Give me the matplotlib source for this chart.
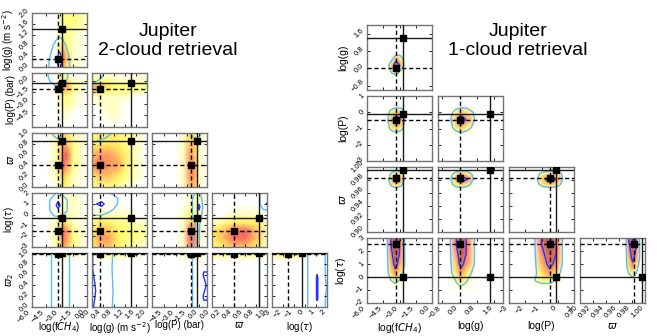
import numpy as np
import matplotlib
matplotlib.use('Agg')
import matplotlib.pyplot as plt
from matplotlib.colors import ListedColormap

plt.rcParams['font.family'] = ['Liberation Sans', 'DejaVu Sans']
plt.rcParams['mathtext.fontset'] = 'dejavusans'

# ---------------- left corner plot: Jupiter, 2-cloud retrieval ----------------
left_names = ['log(f$CH_4$)', 'log(g) (m s$^{-2}$)', 'log(P) (bar)', r'$\varpi$', r'log($\tau$)', r'$\varpi_2$']
left_ranges = [(-6, 0), (0, 2), (-6, 1), (0, 1), (-3, 2), (0, 1)]
left_ticks = [[-6, -4.5, -3, -1.5, 0], [0, 0.4, 0.8, 1.2, 1.6, 2.0], [-4.5, -3, -1.5, 0],
              [0, 0.2, 0.4, 0.6, 0.8, 1.0], [-3, -2, -1, 0, 1, 2], [0, 0.2, 0.4, 0.6, 0.8, 1.0]]
left_fmt = ['%.1f', '%.1f', '%.1f', '%.1f', '%d', '%.1f']
left_true = [-2.7, 1.40, -0.25, 0.85, -0.3, 1.0]      # solid lines
left_retr = [-3.15, 0.30, -1.1, 0.40, -1.55, 0.985]   # dashed lines

# heat-map node positions along each parameter
hx_fch4 = [-6, -4.5, -3.5, -3.0, -2.6, -2.2, -1.5, 0]
hx_g = [0, 0.3, 0.6, 0.9, 1.2, 1.6, 2.0]
hx_p = [-6, -4, -3, -2, -1.2, -0.6, 0, 1]
hx_w = [0, 0.2, 0.4, 0.6, 0.8, 1.0]
hx_tau = [-3, -2.2, -1.5, -0.8, 0, 1, 2]
hx_w2 = [0, 0.85, 1.0]
left_heat_nodes = [hx_fch4, hx_g, hx_p, hx_w, hx_tau, hx_w2]

# posterior density (rows = y nodes bottom->top, cols = x nodes)
heat_g_fch4 = [[0, 0, 0, 1, 4, 3, 1, 0], [0, 0, 0, 2, 6, 4, 1, 0], [0, 0, 0, 2, 5, 3, 1, 0],
               [0, 0, 0, 1, 3, 2, 1, 0], [0, 0, 0, 1, 2, 2, 1, 0], [0, 0, 0, 1, 2, 2, 2, 1],
               [0, 0, 0, 1, 2, 2, 2, 1]]
heat_p_fch4 = [[0, 0, 0, 0, 0, 0, 0, 0], [0, 0, 0, 0, 1, 1, 0, 0], [0, 0, 0, 1, 1, 2, 1, 0],
               [0, 0, 0, 1, 2, 2, 1, 0], [0, 0, 0, 2, 4, 4, 2, 0], [0, 0, 0, 2, 5, 5, 2, 0],
               [0, 0, 0, 1, 3, 3, 1, 0], [0, 0, 0, 1, 1, 1, 0, 0]]
heat_p_g = [[0, 0, 0, 0, 0, 0, 0], [0, 0, 1, 1, 0, 0, 0], [0, 1, 1, 1, 0, 0, 0],
            [1, 1, 1, 1, 1, 0, 0], [5, 3, 3, 2, 2, 2, 1], [5, 4, 3, 2, 2, 2, 2],
            [2, 2, 2, 1, 1, 1, 1], [0, 0, 0, 0, 0, 0, 0]]
heat_w_fch4 = [[0, 0, 0, 1, 3, 2, 1, 0], [0, 0, 1, 2, 4, 3, 1, 0], [0, 0, 1, 3, 6, 5, 2, 0],
               [0, 0, 1, 3, 6, 7, 2, 0], [0, 0, 1, 3, 5, 4, 2, 0], [0, 0, 1, 2, 4, 3, 1, 0]]
heat_w_g = [[2, 2, 2, 2, 1, 0, 0], [3, 4, 4, 3, 2, 1, 0], [5, 6, 5, 5, 3, 1, 0],
            [4, 5, 5, 4, 3, 1, 0], [3, 3, 3, 3, 2, 1, 0], [2, 3, 3, 3, 2, 1, 0]]
heat_w_p = [[0, 0, 0, 1, 4, 4, 1, 0], [0, 0, 0, 1, 5, 5, 1, 0], [0, 0, 0, 1, 5, 5, 1, 0],
            [0, 0, 0, 1, 5, 4, 1, 0], [0, 0, 0, 1, 4, 4, 1, 0], [0, 0, 0, 1, 3, 3, 1, 0]]
heat_tau_fch4 = [[0, 0, 1, 3, 5, 4, 2, 0], [0, 0, 1, 3, 6, 5, 2, 0], [0, 0, 1, 3, 6, 5, 2, 0],
                 [0, 0, 1, 2, 4, 3, 1, 0], [0, 0, 0, 1, 1, 1, 1, 0], [0, 0, 0, 0, 1, 1, 1, 0],
                 [0, 0, 0, 0, 1, 1, 1, 0]]
heat_tau_g = [[3, 4, 4, 3, 2, 1, 1], [3, 5, 5, 3, 2, 2, 1], [3, 4, 4, 3, 2, 2, 1],
              [2, 3, 3, 2, 2, 1, 1], [1, 1, 1, 1, 1, 0, 0], [0, 0, 0, 0, 0, 0, 0],
              [0, 0, 0, 0, 0, 0, 0]]
heat_tau_p = [[0, 0, 0, 1, 5, 5, 1, 0], [0, 0, 0, 1, 6, 6, 1, 0], [0, 0, 0, 1, 6, 5, 1, 0],
              [0, 0, 0, 1, 4, 4, 1, 0], [0, 0, 0, 1, 2, 2, 1, 0], [0, 0, 0, 0, 1, 1, 1, 0],
              [0, 0, 0, 0, 1, 1, 1, 0]]
heat_tau_w = [[2, 3, 4, 4, 3, 1], [3, 4, 6, 6, 4, 1], [3, 4, 6, 7, 4, 1], [1, 2, 3, 3, 3, 1],
              [0, 0, 1, 1, 1, 0], [0, 0, 0, 0, 0, 0], [0, 0, 0, 0, 0, 0]]
heat_w2_fch4 = [[0, 0, 0, 0, 0, 0, 0, 0], [0, 0, 0, 0, 0, 0, 0, 0], [0, 0, 0, 2, 3, 2, 1, 0]]
heat_w2_g = [[0, 0, 0, 0, 0, 0, 0], [0, 0, 0, 0, 0, 0, 0], [2, 2, 2, 2, 1, 1, 0]]
heat_w2_p = [[0, 0, 0, 0, 0, 0, 0, 0], [0, 0, 0, 0, 0, 0, 0, 0], [0, 0, 0, 1, 3, 3, 1, 0]]
heat_w2_w = [[0, 0, 0, 0, 0, 0], [0, 0, 0, 0, 0, 0], [2, 2, 2, 2, 2, 1]]
heat_w2_tau = [[0, 0, 0, 0, 0, 0, 0], [0, 0, 0, 0, 0, 0, 0], [2, 3, 3, 2, 1, 0, 0]]

# contour fields (x nodes, y nodes, values)
cont_g_fch4 = ([-4.5, -3.9, -3.4, -3.0, -2.6, -2.1, -1.6], [-0.2, 0.2, 0.5, 0.8, 1.1, 1.4],
               [[0, 3, 5, 6, 5, 3, 0], [0, 3, 6, 8, 6, 3, 0], [0, 2, 5, 7, 5, 2, 0],
                [0, 1, 3, 4, 3, 1, 0], [0, 0, 1, 2, 1, 0, 0], [0, 0, 0, 0, 0, 0, 0]])
cont_p_fch4 = ([-4.6, -4.0, -3.4, -2.9, -2.3, -1.8], [-1.2, -0.6, 0, 0.5, 1.0, 1.5],
               [[0, 0, 0, 0, 0, 0], [0, 1, 2, 2, 1, 0], [0, 2, 4, 4, 2, 0],
                [0, 3, 5, 5, 3, 0], [0, 3, 6, 6, 3, 0], [0, 3, 6, 6, 3, 0]])
cont_p_g = ([-0.3, 0, 0.25, 0.5, 0.8], [-0.8, -0.3, 0.2, 0.6, 1.0, 1.4],
            [[0, 0, 0, 0, 0], [3, 2, 1, 0, 0], [6, 4, 2, 1, 0], [8, 6, 3, 1, 0],
             [8, 6, 3, 1, 0], [8, 6, 3, 1, 0]])
cont_w_fch4 = ([-4.2, -3.6, -3.2, -2.8, -2.3], [0.8, 0.9, 1.0, 1.1],
               [[0, 0, 0, 0, 0], [0, 1, 2, 1, 0], [0, 3, 4, 3, 0], [0, 3, 4, 3, 0]])
cont_w_g = ([-0.3, 0.1, 0.5, 0.9, 1.3], [0.7, 0.85, 1.0, 1.15],
            [[1, 0, 0, 0, 0], [4, 2, 1, 0, 0], [6, 4, 3, 1, 0], [6, 5, 3, 1, 0]])
cont_w_p = ([-1.5, -0.9, -0.4, 0.1, 0.6], [0.8, 0.9, 1.0, 1.1],
            [[0, 0, 0, 0, 0], [0, 1, 2, 1, 0], [0, 3, 4, 3, 0], [0, 3, 4, 3, 0]])
cont_tau_fch4 = ([-4.6, -4.0, -3.5, -3.15, -2.8, -2.2, -1.7], [-0.6, -0.1, 0.4, 0.85, 1.3, 1.8, 2.3],
                 [[0, 0, 0, 0, 0, 0, 0], [0, 1, 2, 2, 2, 1, 0], [0, 2, 4, 5, 4, 2, 0],
                  [0, 2, 5, 9, 5, 2, 0], [0, 2, 4, 6, 4, 2, 0], [0, 1, 2, 3, 2, 1, 0],
                  [0, 0, 1, 1, 1, 0, 0]])
cont_tau_g = ([-0.2, 0.1, 0.35, 0.6, 0.9, 1.2], [-0.6, 0.0, 0.5, 1.0, 1.5, 2.0, 2.5],
              [[0, 0, 0, 0, 0, 0], [1, 2, 2, 1, 0, 0], [2, 4, 5, 3, 1, 0], [3, 6, 8, 4, 2, 0],
               [2, 4, 4, 3, 2, 0], [1, 2, 2, 2, 1, 0], [0, 0, 1, 1, 0, 0]])
cont_tau_p = ([-1.3, -0.8, -0.4, 0.0, 0.3, 0.7], [-3.2, -2, -1, 0, 0.7, 1.4, 2.1, 2.6],
              [[0, 2, 3, 2, 0, 0], [0, 2, 3, 2, 0, 0], [0, 1, 2, 2, 1, 0], [0, 2, 3, 4, 2, 0],
               [0, 2, 4, 8, 3, 0], [0, 2, 4, 4, 2, 0], [0, 1, 2, 2, 1, 0], [0, 0, 0, 0, 0, 0]])
cont_tau_w = ([0.8, 0.88, 0.94, 1.0, 1.06], [0.0, 0.5, 1.0, 1.5, 2.0, 2.5],
              [[0, 0, 0, 0, 0], [0, 1, 2, 2, 2], [0, 2, 4, 7, 7], [0, 2, 3, 4, 4],
               [0, 2, 2, 3, 3], [0, 2, 2, 3, 3]])
cont_w2_fch4 = ([-4.2, -3.7, -3.0, -2.2, -1.7], [-0.1, 1.1],
                [[0, 3, 5, 3, 0], [0, 3, 5, 3, 0]])
cont_w2_g = ([-0.2, 0.1, 0.4, 0.7, 1.0], [-0.1, 0.3, 0.7, 1.1],
             [[8, 6, 4, 2, 0], [8, 6.8, 4, 2.3, 0], [8, 6, 4.5, 2, 0], [8, 6, 4, 2.2, 0]])
cont_w2_p = ([-1.4, -0.8, -0.3, 0.2, 0.6, 1.0, 1.4], [-0.1, 0.2, 0.4, 0.6, 0.8, 1.1],
             [[0, 2, 4, 5, 5, 5, 5], [0, 2, 4, 5, 7, 7, 5], [0, 2, 4, 5, 5, 7, 5],
              [0, 2, 4, 5, 7, 7, 5], [0, 2, 4, 5, 5, 5, 5], [0, 2, 4, 5, 5, 5, 5]])
cont_w2_w = ([0.75, 0.87, 1.0], [-0.1, 1.1], [[0, 2.2, 4], [0, 2.2, 4]])
cont_w2_tau = ([-0.2, 0.3, 0.75, 1.1, 1.5, 1.8, 2.2], [-0.1, 0.15, 0.35, 0.55, 0.75, 1.1],
               [[0, 2, 3, 3, 3, 2, 0], [0, 2, 4, 7, 4, 2, 0], [0, 2, 4, 7, 4, 3, 0],
                [0, 2, 4, 7, 4, 2, 0], [0, 2, 4, 5, 4, 2, 0], [0, 2, 3, 3, 3, 2, 0]])

left_heat = {(1, 0): heat_g_fch4, (2, 0): heat_p_fch4, (2, 1): heat_p_g,
             (3, 0): heat_w_fch4, (3, 1): heat_w_g, (3, 2): heat_w_p,
             (4, 0): heat_tau_fch4, (4, 1): heat_tau_g, (4, 2): heat_tau_p, (4, 3): heat_tau_w,
             (5, 0): heat_w2_fch4, (5, 1): heat_w2_g, (5, 2): heat_w2_p, (5, 3): heat_w2_w,
             (5, 4): heat_w2_tau}
left_cont = {(1, 0): cont_g_fch4, (2, 0): cont_p_fch4, (2, 1): cont_p_g,
             (3, 0): cont_w_fch4, (3, 1): cont_w_g, (3, 2): cont_w_p,
             (4, 0): cont_tau_fch4, (4, 1): cont_tau_g, (4, 2): cont_tau_p, (4, 3): cont_tau_w,
             (5, 0): cont_w2_fch4, (5, 1): cont_w2_g, (5, 2): cont_w2_p, (5, 3): cont_w2_w,
             (5, 4): cont_w2_tau}

# ---------------- right corner plot: Jupiter, 1-cloud retrieval ----------------
right_names = ['log(f$CH_4$)', 'log(g)', 'log(P)', r'$\varpi$', r'log($\tau$)']
right_ranges = [(-6, 0), (-1, 2), (-3, 1), (0.9, 1.0), (-2, 3)]
right_ticks = [[-6, -4.5, -3, -1.5, 0], [-0.8, 0, 0.8, 1.6], [-3, -2, -1, 0, 1],
               [0.9, 0.92, 0.94, 0.96, 0.98, 1.0], [-2, -1, 0, 1, 2, 3]]
right_fmt = ['%.1f', '%.1f', '%d', '%.2f', '%d']
right_true = [-2.7, 1.40, -0.1, 0.995, 0.0]
right_retr = [-3.3, 0.0, -0.45, 0.983, 2.55]

r_g_fch4 = ([-4.1, -3.7, -3.3, -2.9, -2.5], [-0.4, -0.1, 0.15, 0.4, 0.7],
            [[0, 0, 0, 0, 0], [0, 2, 4, 1, 0], [0, 4, 9, 5, 0], [0, 1, 5, 3, 0], [0, 0, 0, 0, 0]])
r_p_fch4 = ([-4.2, -3.8, -3.3, -2.8, -2.4], [-1.4, -0.9, -0.45, 0.0, 0.4],
            [[0, 0, 0, 0, 0], [0, 2, 4, 2, 0], [0, 4, 9, 5, 0], [0, 2, 4, 3, 0], [0, 0, 0, 0, 0]])
r_p_g = ([-0.5, -0.2, 0.05, 0.35, 0.8], [-1.4, -0.95, -0.45, 0.0, 0.4],
         [[0, 0, 0, 0, 0], [0, 2, 4, 2, 0], [0, 4, 9, 5, 0], [0, 2, 4, 3, 0], [0, 0, 0, 0, 0]])
r_w_fch4 = ([-4.1, -3.7, -3.3, -2.9, -2.5], [0.966, 0.973, 0.981, 0.989, 0.996],
            [[0, 0, 0, 0, 0], [0, 2, 4, 2, 0], [0, 4, 9, 5, 0], [0, 2, 4, 3, 0], [0, 0, 0, 0, 0]])
r_w_g = ([-0.5, -0.2, 0.05, 0.35, 0.7], [0.966, 0.973, 0.981, 0.989, 0.996],
         [[0, 0, 0, 0, 0], [0, 2, 4, 2, 0], [0, 4, 9, 6, 0], [0, 2, 5, 3, 0], [0, 0, 0, 0, 0]])
r_w_p = ([-1.4, -0.95, -0.45, 0.0, 0.4], [0.966, 0.973, 0.981, 0.989, 0.996],
         [[0, 0, 0, 0, 0], [0, 2, 4, 2, 0], [0, 4, 9, 5, 0], [0, 2, 4, 3, 0], [0, 0, 0, 0, 0]])
r_tau_fch4 = ([-4.2, -3.8, -3.4, -3.0, -2.5], [-0.8, -0.3, 0.3, 1.0, 1.8, 2.5, 3.2],
              [[0, 0, 0, 0, 0], [0, 1, 2, 1, 0], [0, 3, 5, 3, 0], [0, 4, 7, 5, 1],
               [0, 5, 8, 6, 1], [0, 6, 9, 6, 1], [0, 6, 9, 6, 1]])
r_tau_g = ([-0.5, -0.15, 0.05, 0.3, 0.7], [-1.0, -0.5, 0.3, 1.0, 1.8, 2.5, 3.2],
           [[0, 0, 0, 0, 0], [0, 1, 2, 1, 0], [0, 3, 5, 3, 0], [0, 4, 7, 5, 1],
            [0, 5, 8, 6, 1], [0, 6, 9, 6, 1], [0, 6, 9, 6, 1]])
r_tau_p = ([-1.5, -1.0, -0.5, -0.1, 0.3], [-0.8, -0.3, 0.3, 1.0, 1.8, 2.5, 3.2],
           [[0, 0, 0, 0, 0], [1, 2, 2, 1, 0], [0, 3, 5, 3, 0], [0, 4, 7, 5, 1],
            [0, 5, 8, 6, 1], [0, 6, 9, 6, 1], [0, 6, 9, 6, 1]])
r_tau_w = ([0.970, 0.975, 0.981, 0.986, 0.992], [-0.3, 0.2, 0.8, 1.5, 2.2, 2.8, 3.2],
           [[0, 0, 0, 0, 0], [0, 1, 2, 1, 0], [0, 3, 5, 3, 0], [0, 4, 7, 5, 1],
            [0, 5, 8, 6, 1], [0, 6, 9, 6, 1], [0, 6, 9, 6, 1]])

right_post = {(1, 0): r_g_fch4, (2, 0): r_p_fch4, (2, 1): r_p_g,
              (3, 0): r_w_fch4, (3, 1): r_w_g, (3, 2): r_w_p,
              (4, 0): r_tau_fch4, (4, 1): r_tau_g, (4, 2): r_tau_p, (4, 3): r_tau_w}

# ------------------------------------------------------------------------------
W, H = 657, 336
fig = plt.figure(figsize=(W / 100, H / 100), dpi=100)

base = plt.get_cmap('hot_r')(np.linspace(0, 1, 256))
heat_cmap = ListedColormap(0.62 * base + 0.38)
light_blue = '#5cbdf0'
dark_blue = '#1f35ff'


def fmt(v, f):
    return (f % v).replace('-', '\u2212')


def make_ax(x, y, w, h):
    return fig.add_axes([x / W, 1 - (y + h) / H, w / W, h / H])


def style(ax, xr, yr, xt, yt, xf, yf, showx, showy):
    ax.set_xlim(xr)
    ax.set_ylim(yr)
    ax.set_xticks(xt)
    ax.set_yticks(yt)
    ax.set_xticklabels([fmt(v, xf) for v in xt] if showx else [])
    ax.set_yticklabels([fmt(v, yf) for v in yt] if showy else [])
    ax.tick_params(direction='in', length=2, width=0.6, top=True, right=True,
                   labelsize=5.5, pad=1)
    plt.setp(ax.get_xticklabels(), rotation=45, ha='right', va='top')
    plt.setp(ax.get_yticklabels(), rotation=45, ha='right', va='center')
    for s in ax.spines.values():
        s.set_color('0.45')
        s.set_linewidth(1.0)


def markers(ax, tx, ty, rx, ry):
    ax.axvline(tx, color='0.1', lw=1.0, zorder=3)
    ax.axhline(ty, color='0.1', lw=1.0, zorder=3)
    ax.axvline(rx, color='k', lw=1.0, ls=(0, (3, 2)), zorder=3)
    ax.axhline(ry, color='k', lw=1.0, ls=(0, (3, 2)), zorder=3)
    ax.plot([tx, rx], [ty, ry], 's', color='k', ms=4.5, zorder=5)


# left panels
for r in range(1, 6):
    for c in range(r):
        ax = make_ax(32 + 60 * c, 13 + 60 * (r - 1), 55, 54)
        hx, hy = np.meshgrid(left_heat_nodes[c], left_heat_nodes[r])
        ax.pcolormesh(hx, hy, np.array(left_heat[(r, c)], float), shading='gouraud',
                      cmap=heat_cmap, vmin=0, vmax=10, zorder=0)
        cx, cy, cz = left_cont[(r, c)]
        ax.contour(cx, cy, np.array(cz, float), levels=[1.8, 6.5],
                   colors=[light_blue, dark_blue], linewidths=1.0, zorder=1)
        markers(ax, left_true[c], left_true[r], left_retr[c], left_retr[r])
        style(ax, left_ranges[c], left_ranges[r], left_ticks[c], left_ticks[r],
              left_fmt[c], left_fmt[r], r == 5, c == 0)
        if r == 5:
            ax.set_xlabel(left_names[c], fontsize=7)
            ax.xaxis.set_label_coords(0.5, -0.25)
        if c == 0:
            ax.set_ylabel(left_names[r], fontsize=7)
            ax.yaxis.set_label_coords(-0.29, 0.5)

# right panels
for r in range(1, 5):
    for c in range(r):
        ax = make_ax(367 + 71 * c, 25 + 71 * (r - 1), 65, 65)
        px, py, pz = right_post[(r, c)]
        gx, gy = np.meshgrid(px, py)
        ax.pcolormesh(gx, gy, np.array(pz, float), shading='gouraud',
                      cmap=heat_cmap, vmin=0, vmax=10, zorder=0)
        ax.contour(px, py, np.array(pz, float), levels=[1.2, 6.0],
                   colors=[light_blue, dark_blue], linewidths=1.0, zorder=1)
        markers(ax, right_true[c], right_true[r], right_retr[c], right_retr[r])
        style(ax, right_ranges[c], right_ranges[r], right_ticks[c], right_ticks[r],
              right_fmt[c], right_fmt[r], r == 4, c == 0)
        if r == 4:
            ax.set_xlabel(right_names[c], fontsize=7.5)
            ax.xaxis.set_label_coords(0.5, -0.27)
        if c == 0:
            ax.set_ylabel(right_names[r], fontsize=7.5)
            ax.yaxis.set_label_coords(-0.29, 0.5)

fig.text(168 / W, 1 - 36 / H, 'Jupiter', ha='center', va='baseline', fontsize=14)
fig.text(168 / W, 1 - 55 / H, '2-cloud retrieval', ha='center', va='baseline', fontsize=14)
fig.text(518 / W, 1 - 36 / H, 'Jupiter', ha='center', va='baseline', fontsize=14)
fig.text(518 / W, 1 - 55 / H, '1-cloud retrieval', ha='center', va='baseline', fontsize=14)

fig.savefig('out.png', dpi=100)
